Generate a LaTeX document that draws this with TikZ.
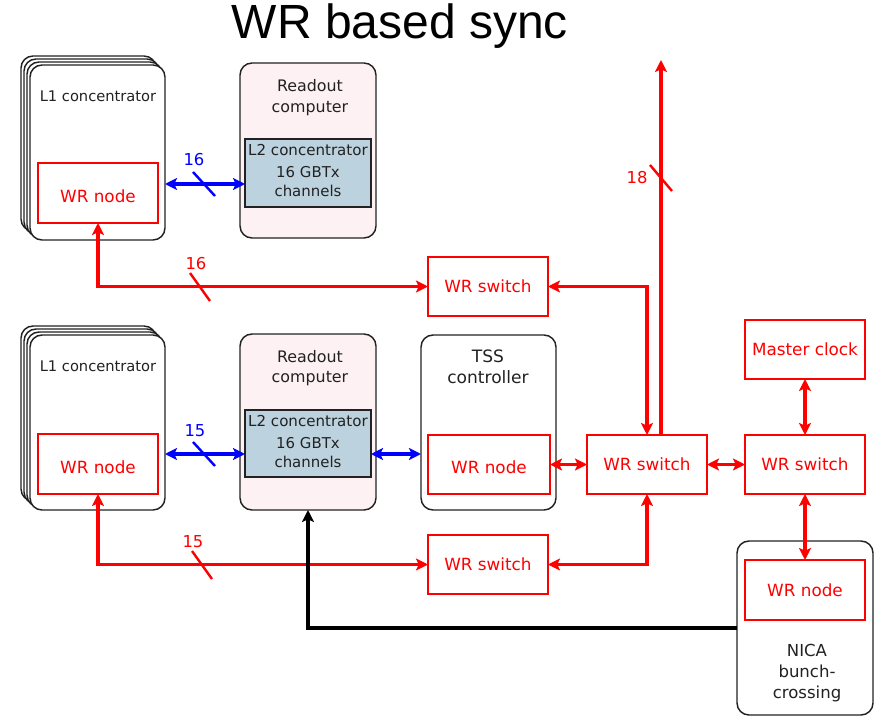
\documentclass[tikz,border=0pt]{standalone}
\usepackage{fontspec}
\setmainfont{DejaVu Sans}
\newfontfamily\titlefont{Liberation Sans}
\usetikzlibrary{arrows.meta,calc}
\definecolor{wrred}{RGB}{255,0,0}
\definecolor{lnkblue}{RGB}{0,0,255}
\definecolor{pinkbg}{RGB}{253,241,243}
\definecolor{l2fill}{RGB}{188,210,222}
\definecolor{ink}{RGB}{34,34,34}
\newcommand{\lowtext}[1]{\raisebox{-7pt}[0pt][0pt]{#1}}
\tikzset{
  every node/.style={font=\fontsize{11pt}{15.5pt}\selectfont, inner sep=0pt, outer sep=0pt},
  bigtext/.style={font=\fontsize{12.6pt}{15.8pt}\selectfont},
  unit/.style={draw=ink, line width=1.1pt, rounded corners=9pt, fill=white},
  wrbox/.style={draw=wrred, line width=1.1pt, fill=white, text=wrred, bigtext},
  l2box/.style={draw=ink, line width=1.1pt, fill=l2fill},
  caption/.style={text=ink, align=center},
  redlink/.style={draw=wrred, line width=2.3pt, {Stealth[length=9pt,width=9pt,inset=2pt]}-{Stealth[length=9pt,width=9pt,inset=2pt]}},
  redone/.style={draw=wrred, line width=2.3pt, -{Stealth[length=9pt,width=9pt,inset=2pt]}},
  bluelink/.style={draw=lnkblue, line width=2.3pt, {Stealth[length=9pt,width=9pt,inset=2pt]}-{Stealth[length=9pt,width=9pt,inset=2pt]}},
  blacklink/.style={draw=black, line width=2.3pt, -{Stealth[length=9pt,width=9pt,inset=2pt]}},
  ticklineR/.style={draw=wrred, line width=1.8pt},
  ticklineB/.style={draw=lnkblue, line width=1.8pt},
  count/.style={font=\fontsize{12.3pt}{14pt}\selectfont},
}
\begin{document}
\begin{tikzpicture}[x=0.75pt,y=-0.75pt]
\useasboundingbox (0,0) rectangle (875,717);

% title
\node[font=\titlefont\fontsize{36pt}{40pt}\selectfont, text=black] (title) at (400,26) {WR based sync};

% ---- upper L1 concentrator (stacked cards)
\foreach \d in {9,6,3}
  \draw[unit] (30-\d,65-\d) rectangle (165-\d,240-\d);
\node[unit, minimum width=101.25pt, minimum height=131.25pt] (L1a) at (97.5,152.5) {};
\node[caption] (L1aT) at (98,96) {L1 concentrator};
\node[wrbox, minimum width=90pt, minimum height=45pt] (WRn1) at (98,193) {\lowtext{WR node}};

% ---- upper readout computer
\node[unit, fill=pinkbg, minimum width=102pt, minimum height=131.25pt] (RC1) at (308,150.5) {};
\node[caption, font=\fontsize{11.9pt}{15.5pt}\selectfont] (RC1T) at (310,97.5) {Readout\\computer};
\node[l2box, minimum width=94.5pt, minimum height=51pt] (L2a) at (308,173) {};
\node[caption, font=\fontsize{11.3pt}{14pt}\selectfont] (L2aT) at (308,150) {L2 concentrator};
\node[caption, font=\fontsize{11.2pt}{14.3pt}\selectfont] (L2aC) at (308,182) {16 GBTx\\channels};

% ---- lower L1 concentrator (stacked cards)
\foreach \d in {9,6,3}
  \draw[unit] (30-\d,335-\d) rectangle (165-\d,510-\d);
\node[unit, minimum width=101.25pt, minimum height=131.25pt] (L1b) at (97.5,422.5) {};
\node[caption] (L1bT) at (98,366) {L1 concentrator};
\node[wrbox, minimum width=90pt, minimum height=45pt] (WRn2) at (98,464) {\lowtext{WR node}};

% ---- lower readout computer
\node[unit, fill=pinkbg, minimum width=102pt, minimum height=132pt] (RC2) at (308,422) {};
\node[caption, font=\fontsize{11.9pt}{15.5pt}\selectfont] (RC2T) at (310,368) {Readout\\computer};
\node[l2box, minimum width=94.5pt, minimum height=50.25pt] (L2b) at (308,443.5) {};
\node[caption, font=\fontsize{11.3pt}{14pt}\selectfont] (L2bT) at (308,421) {L2 concentrator};
\node[caption, font=\fontsize{11.2pt}{14.3pt}\selectfont] (L2bC) at (308,453) {16 GBTx\\channels};

% ---- TSS controller
\node[unit, minimum width=101.25pt, minimum height=131.25pt] (TSS) at (488.5,422.5) {};
\node[caption, font=\fontsize{12.8pt}{15.5pt}\selectfont] (TSST) at (488,367) {TSS\\controller};
\node[wrbox, minimum width=91.5pt, minimum height=44.25pt] (WRn3) at (489,464.5) {\lowtext{WR node}};

% ---- WR switches and master clock
\node[wrbox, minimum width=90pt, minimum height=44.25pt] (SW1) at (488,286.5) {WR switch};
\node[wrbox, minimum width=90pt, minimum height=44.25pt] (SW3) at (488,564.5) {WR switch};
\node[wrbox, minimum width=90pt, minimum height=44.25pt] (SWc) at (647,464.5) {WR switch};
\node[wrbox, minimum width=90pt, minimum height=44.25pt] (SWr) at (805,464.5) {WR switch};
\node[wrbox, minimum width=90pt, minimum height=44.25pt] (MC) at (805,349.5) {Master clock};

% ---- NICA bunch-crossing
\node[unit, minimum width=102pt, minimum height=130.5pt] (NICA) at (805,628) {};
\node[wrbox, minimum width=90pt, minimum height=45pt] (WRn4) at (805,590) {WR node};
\node[caption, font=\fontsize{12.4pt}{15.8pt}\selectfont] (NICAT) at (807,673) {NICA\\bunch-\\crossing};

% ---- helper coordinates
\coordinate (b1) at (0,184);
\coordinate (b2) at (0,454);
\coordinate (up18) at (661,60);

% ---- data links (blue)
\draw[bluelink] (L1a.east |- b1) -- (L2a.west |- b1);
\draw[bluelink] (L1b.east |- b2) -- (L2b.west |- b2);
\draw[bluelink] (L2b.east |- b2) -- (TSS.west |- b2);

% ---- WR links (red)
\draw[redlink] (WRn1.south) |- (SW1.west);
\draw[redlink] (SW1.east) -| (SWc.north);
\draw[redone] (SWc.north -| up18) -- (up18);
\draw[redlink] (WRn2.south) |- (SW3.west);
\draw[redlink] (SW3.east) -| (SWc.south);
\draw[redlink] (WRn3.east) -- (SWc.west);
\draw[redlink] (SWc.east) -- (SWr.west);
\draw[redlink] (MC.south) -- (SWr.north);
\draw[redlink] (SWr.south) -- (WRn4.north);

% ---- bunch-crossing signal
\draw[blacklink] (NICA.west) -| (RC2.south);

% ---- bus-width ticks and counts
\draw[ticklineB] (204,184) ++(-11,-12) -- ++(22,24);
\node[count, text=lnkblue] (n16b) at (194,160) {16};
\draw[ticklineR] (200,287) ++(-10,-14) -- ++(20,28);
\node[count, text=wrred] (n16r) at (196,264) {16};
\draw[ticklineR] (661,178) ++(-11,-13) -- ++(22,26);
\node[count, text=wrred] (n18) at (637,178) {18};
\draw[ticklineB] (204,454) ++(-11,-12) -- ++(22,24);
\node[count, text=lnkblue] (n15b) at (195,431) {15};
\draw[ticklineR] (202,565) ++(-10,-14) -- ++(20,28);
\node[count, text=wrred] (n15r) at (193,542) {15};
\end{tikzpicture}
\end{document}
